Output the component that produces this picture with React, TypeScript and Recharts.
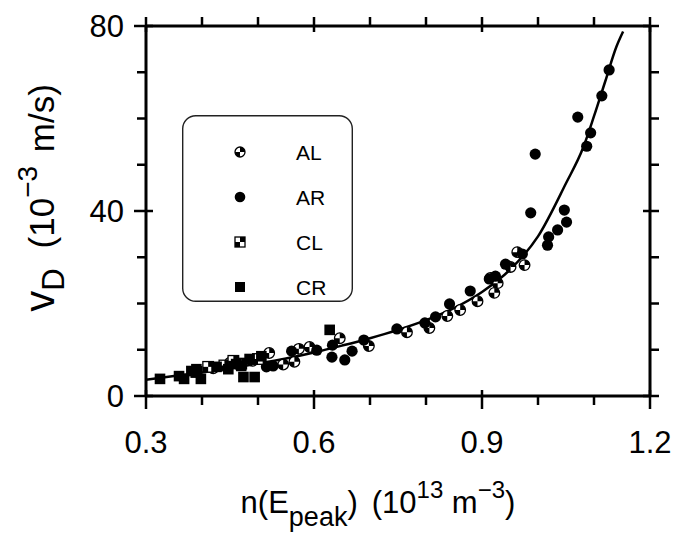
import React from 'react'
import { ComposedChart, Line, Scatter, XAxis, YAxis, Legend } from 'recharts'

// n(E_peak) in 1e13 m^-3, v_D in 1e-3 m/s
const AL: [number, number][] = [
  [0.42, 6.0], [0.45, 7.2], [0.49, 7.6], [0.52, 9.3], [0.545, 6.8], [0.565, 7.4],
  [0.573, 10.2], [0.592, 10.6], [0.646, 12.5], [0.698, 10.8], [0.766, 13.8],
  [0.806, 14.7], [0.838, 17.3], [0.861, 18.6], [0.892, 20.5], [0.915, 25.5],
  [0.922, 22.3], [0.928, 24.4], [0.951, 27.9], [0.963, 31.1], [0.976, 28.3],
]

const AR: [number, number][] = [
  [0.505, 8.2], [0.515, 6.3], [0.527, 6.5], [0.56, 9.7], [0.605, 9.9], [0.633, 11.0],
  [0.632, 8.4], [0.655, 7.8], [0.668, 9.7], [0.689, 12.1], [0.748, 14.5],
  [0.798, 15.8], [0.817, 17.1], [0.842, 19.9], [0.879, 22.7], [0.913, 25.3],
  [0.924, 25.9], [0.942, 28.5], [0.972, 30.7], [0.987, 39.6], [0.995, 52.3],
  [1.017, 32.6], [1.019, 34.4], [1.035, 35.9], [1.047, 40.2], [1.051, 37.6],
  [1.071, 60.3], [1.087, 54.0], [1.094, 56.9], [1.114, 64.9], [1.127, 70.5],
]

const CL: [number, number][] = [
  [0.39, 5.2], [0.411, 6.3], [0.44, 6.6], [0.456, 7.6], [0.47, 7.0], [0.5, 8.0],
]

const CR: [number, number][] = [
  [0.325, 3.7], [0.359, 4.3], [0.368, 3.7], [0.381, 5.4], [0.39, 5.8], [0.398, 3.7],
  [0.426, 6.3], [0.447, 5.8], [0.461, 6.9], [0.47, 6.5], [0.474, 4.1], [0.485, 8.0],
  [0.494, 4.1], [0.506, 8.6], [0.628, 14.3],
]

// fitted curve
const FIT: [number, number][] = [
  [0.3, 3.5], [0.35, 4.3], [0.4, 5.1], [0.45, 6.0], [0.5, 7.0], [0.55, 8.1],
  [0.6, 9.4], [0.65, 10.9], [0.7, 12.5], [0.75, 14.3], [0.8, 16.4], [0.85, 19.0],
  [0.9, 22.5], [0.95, 27.3], [1.0, 34.5], [1.05, 46.0], [1.08, 53.5], [1.1, 60.5],
  [1.12, 68.0], [1.14, 75.5], [1.152, 78.8],
]

const X_TICKS = [0.3, 0.4, 0.5, 0.6, 0.7, 0.8, 0.9, 1.0, 1.1, 1.2]
const X_LABELS = ['0.3', '0.6', '0.9', '1.2']
const Y_TICKS = [0, 10, 20, 30, 40, 50, 60, 70, 80]
const Y_LABELS = [0, 40, 80]

const SERIES = ['AL', 'AR', 'CL', 'CR']

const W = 673
const H = 545
const LEFT = 146
const RIGHT = 650
const TOP = 26
const BOTTOM = 396
const FONT = '"Liberation Sans", Arial, Helvetica, sans-serif'

const toRows = (pts: [number, number][]) => pts.map(([n, v]) => ({ n, v }))

const R = 5.3

function HalfCircle({ cx, cy, r = R }: any) {
  return (
    <g>
      <circle cx={cx} cy={cy} r={r} fill="#fff" stroke="#000" strokeWidth={1.3} />
      <path d={`M${cx},${cy} L${cx},${cy - r} A${r},${r} 0 0 1 ${cx + r},${cy} Z`} fill="#000" />
      <path d={`M${cx},${cy} L${cx},${cy + r} A${r},${r} 0 0 1 ${cx - r},${cy} Z`} fill="#000" />
    </g>
  )
}

function Dot({ cx, cy, r = R }: any) {
  return <circle cx={cx} cy={cy} r={r + 0.3} fill="#000" />
}

function CheckSquare({ cx, cy, r = R }: any) {
  return (
    <g>
      <rect x={cx - r} y={cy - r} width={2 * r} height={2 * r} fill="#fff" stroke="#000" strokeWidth={1.3} />
      <rect x={cx} y={cy - r} width={r} height={r} fill="#000" />
      <rect x={cx - r} y={cy} width={r} height={r} fill="#000" />
    </g>
  )
}

function Square({ cx, cy, r = R }: any) {
  return <rect x={cx - r} y={cy - r} width={2 * r} height={2 * r} fill="#000" />
}

const SHAPES: Record<string, any> = { AL: HalfCircle, AR: Dot, CL: CheckSquare, CR: Square }

function BottomTick({ x, payload }: any) {
  const label = Number(payload.value).toFixed(1)
  const major = X_LABELS.includes(label)
  return (
    <g>
      <line x1={x} x2={x} y1={major ? BOTTOM - 6 : BOTTOM} y2={BOTTOM + (major ? 13 : 9)} stroke="#000" strokeWidth={2.5} />
      {major && (
        <text x={x} y={BOTTOM + 57} textAnchor="middle" fontSize={31} fontFamily={FONT} fill="#000">
          {label}
        </text>
      )}
    </g>
  )
}

function TopTick({ x, payload }: any) {
  const major = X_LABELS.includes(Number(payload.value).toFixed(1))
  return <line x1={x} x2={x} y1={major ? TOP + 6 : TOP} y2={TOP - 9} stroke="#000" strokeWidth={2.5} />
}

function LeftTick({ y, payload }: any) {
  const major = Y_LABELS.includes(payload.value)
  return (
    <g>
      <line x1={major ? LEFT + 7 : LEFT} x2={LEFT - (major ? 12 : 9)} y1={y} y2={y} stroke="#000" strokeWidth={2.5} />
      {major && (
        <text x={LEFT - 22} y={y} dy={11} textAnchor="end" fontSize={31} fontFamily={FONT} fill="#000">
          {payload.value}
        </text>
      )}
    </g>
  )
}

function RightTick({ y, payload }: any) {
  const major = Y_LABELS.includes(payload.value)
  return <line x1={major ? RIGHT - 7 : RIGHT} x2={RIGHT + 9} y1={y} y2={y} stroke="#000" strokeWidth={2.5} />
}

function XTitle() {
  return (
    <text x={378} y={513} textAnchor="middle" fontSize={31} fontFamily={FONT} fill="#000">
      n(E
      <tspan fontSize={27} dy={13}>peak</tspan>
      <tspan dy={-13}>)</tspan>
      <tspan dx={14}>(10</tspan>
      <tspan fontSize={24} dy={-15}>13</tspan>
      <tspan dy={15}> m</tspan>
      <tspan fontSize={24} dy={-15}>−3</tspan>
      <tspan dy={15}>)</tspan>
    </text>
  )
}

function YTitle() {
  return (
    <text
      transform="translate(54,198) rotate(-90)"
      textAnchor="middle"
      fontSize={35}
      fontFamily={FONT}
      fill="#000"
    >
      <tspan fontSize={42}>v</tspan>
      <tspan fontSize={31} dy={10}>D</tspan>
      <tspan dy={-10} dx={20}>(10</tspan>
      <tspan fontSize={28} dy={-17}>−3</tspan>
      <tspan dy={17} dx={4}> m/s)</tspan>
    </text>
  )
}

function LegendBox() {
  const rows = [37, 82, 127, 172]
  return (
    <svg width={171} height={187} style={{ display: 'block', overflow: 'visible' }}>
      <rect x={0.7} y={0.7} width={169.6} height={185.6} rx={13} fill="#fff" stroke="#222" strokeWidth={1.4} />
      {SERIES.map((name, i) => {
        const Shape = SHAPES[name]
        return (
          <g key={name}>
            <Shape cx={58} cy={rows[i]} r={5} />
            <text x={114} y={rows[i] + 8} fontSize={21} fontFamily={FONT} fill="#000">
              {name}
            </text>
          </g>
        )
      })}
    </svg>
  )
}

export default function App() {
  const sets: Record<string, [number, number][]> = { AL, AR, CL, CR }
  return (
    <div style={{ position: 'absolute', left: 0, top: 0, width: W, height: H, background: '#fff' }}>
      <ComposedChart width={W} height={H} margin={{ top: 0, right: 0, bottom: 0, left: 0 }}>
        <XAxis
          xAxisId="b"
          dataKey="n"
          type="number"
          orientation="bottom"
          domain={[0.3, 1.2]}
          ticks={X_TICKS}
          interval={0}
          height={H - BOTTOM}
          axisLine={{ stroke: '#000', strokeWidth: 3 }}
          tickLine={false}
          tick={<BottomTick />}
          allowDataOverflow
        />
        <XAxis
          xAxisId="t"
          dataKey="n"
          type="number"
          orientation="top"
          domain={[0.3, 1.2]}
          ticks={X_TICKS}
          interval={0}
          height={TOP}
          axisLine={{ stroke: '#000', strokeWidth: 3 }}
          tickLine={false}
          tick={<TopTick />}
          allowDataOverflow
        />
        <YAxis
          yAxisId="l"
          dataKey="v"
          type="number"
          orientation="left"
          domain={[0, 80]}
          ticks={Y_TICKS}
          interval={0}
          width={LEFT}
          axisLine={{ stroke: '#000', strokeWidth: 3 }}
          tickLine={false}
          tick={<LeftTick />}
          allowDataOverflow
        />
        <YAxis
          yAxisId="r"
          dataKey="v"
          type="number"
          orientation="right"
          domain={[0, 80]}
          ticks={Y_TICKS}
          interval={0}
          width={W - RIGHT}
          axisLine={{ stroke: '#000', strokeWidth: 3 }}
          tickLine={false}
          tick={<RightTick />}
          allowDataOverflow
        />
        <Line
          xAxisId="b"
          yAxisId="l"
          data={toRows(FIT)}
          dataKey="v"
          type="monotone"
          dot={false}
          stroke="#000"
          strokeWidth={2.5}
          legendType="none"
          isAnimationActive={false}
        />
        {SERIES.map((name) => (
          <Scatter
            key={name}
            name={name}
            xAxisId="b"
            yAxisId="l"
            data={toRows(sets[name])}
            dataKey="v"
            shape={SHAPES[name]}
            isAnimationActive={false}
          />
        ))}
        <Legend
          layout="vertical"
          align="center"
          verticalAlign="middle"
          content={() => <LegendBox />}
          wrapperStyle={{ left: 182, top: 115, width: 171, height: 187, right: 'auto', bottom: 'auto' }}
        />
        <XTitle />
        <YTitle />
      </ComposedChart>
    </div>
  )
}
